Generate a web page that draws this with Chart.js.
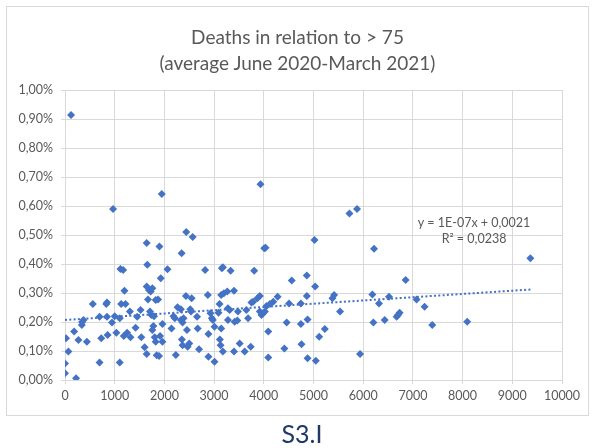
<!DOCTYPE html>
<html>
<head>
<meta charset="utf-8">
<script src="https://cdn.jsdelivr.net/npm/chart.js@4.4.1/dist/chart.umd.min.js"></script>
<style>
  html, body { margin: 0; padding: 0; background: #fff; }
  #wrap { position: relative; width: 594px; height: 448px; overflow: hidden; font-family: Lato, sans-serif; }
  #frame { position: absolute; left: 6px; top: 6px; width: 583px; height: 410px; box-sizing: border-box; border: 1px solid #d9d9d9; }
  #title { position: absolute; left: 6px; width: 583px; top: 24px; text-align: center; color: #595959; font-size: 19px; line-height: 26px; }
  #chart { position: absolute; left: 0; top: 0; }
  #label { position: absolute; left: 0; width: 604px; top: 418px; text-align: center; color: #1f3864; font-size: 25px; line-height: 30px; }
</style>
</head>
<body>
<div id="wrap">
  <div id="frame"></div>
  <canvas id="chart" width="594" height="448"></canvas>
  <div id="title">Deaths in relation to &gt; 75<br>(average June 2020-March 2021)</div>
  <div id="label">S3.I</div>
</div>
<script>
// ===== DATA =====
const xValues = [
  122, 967, 1947, 1643, 1900, 2346, 2440, 2569, 3934, 4009, 4036, 5723, 5877, 5020, 6218, 9364,
  0, 0, 20, 68, 223, 183, 270, 338, 345, 372, 440, 560, 696, 696, 730, 831, 845, 845, 858, 946,
  1000, 1034, 1102, 1102, 1115, 1170, 1130, 1196, 1217, 1183, 1250, 1305, 1318, 1420, 1453, 1521,
  1535, 1602, 1643, 1656, 1643, 1670, 1690, 1724, 1710, 1737, 1758, 1758, 1791, 1778, 1805, 1825,
  1825, 1845, 1873, 1893, 1913, 1927, 1960, 1960, 2062, 2143, 2183, 2210, 2230, 2265, 2332, 2352,
  2332, 2366, 2366, 2386, 2433, 2454, 2467, 2500, 2520, 2535, 2548, 2657, 2670, 2697, 2819, 2873,
  2886, 2886, 2927, 2954, 2974, 3008, 3008, 3089, 3110, 3116, 3143, 3130, 3143, 3157, 3177, 3177,
  3197, 3265, 3278, 3312, 3278, 3332, 3400, 3400, 3413, 3467, 3480, 3515, 3616, 3650, 3683, 3737,
  3751, 3785, 3806, 3872, 3920, 3920, 3954, 3987, 4022, 4056, 4090, 4090, 4124, 4190, 4278, 4414,
  4461, 4508, 4563,
  4746, 4746, 4759, 4866, 4866, 4880, 4880, 5033, 5047, 5114, 5228, 5381, 5415, 5535, 5937, 6185,
  6205, 6318, 6432, 6519, 6673, 6700, 6733, 6854, 7074, 7235, 7389, 8092
];
// deaths in relation to > 75, in percent
const deathShare = [
  0.914, 0.590, 0.641, 0.472, 0.460, 0.437, 0.510, 0.493, 0.675, 0.454, 0.456, 0.574, 0.590, 0.483, 0.453, 0.420,
  0.057, 0.023, 0.144, 0.098, 0.006, 0.167, 0.138, 0.190, 0.200, 0.207, 0.132, 0.262, 0.060, 0.218, 0.144, 0.262, 0.267, 0.218, 0.155, 0.198,
  0.220, 0.163, 0.213, 0.060, 0.383, 0.379, 0.262, 0.308, 0.262, 0.152, 0.163, 0.236, 0.147, 0.180, 0.218, 0.241,
  0.147, 0.113, 0.090, 0.397, 0.322, 0.278, 0.310, 0.305, 0.236, 0.224, 0.316, 0.172, 0.220, 0.186, 0.147, 0.276,
  0.132, 0.085, 0.278, 0.083, 0.152, 0.351, 0.132, 0.193, 0.382, 0.178, 0.220, 0.213, 0.086, 0.251, 0.244, 0.140,
  0.207, 0.198, 0.120, 0.213, 0.290, 0.172, 0.115, 0.126, 0.244, 0.236, 0.282, 0.218, 0.178, 0.106, 0.379, 0.293,
  0.159, 0.080, 0.230, 0.213, 0.207, 0.063, 0.184, 0.232, 0.262, 0.140, 0.178, 0.120, 0.293, 0.385, 0.389, 0.098,
  0.299, 0.305, 0.247, 0.241, 0.207, 0.377, 0.308, 0.098, 0.201, 0.205, 0.236, 0.126, 0.098, 0.241, 0.213, 0.115,
  0.267, 0.270, 0.377, 0.282, 0.290, 0.236, 0.224, 0.230, 0.236, 0.255, 0.078, 0.167, 0.262, 0.270, 0.287, 0.109,
  0.198, 0.264, 0.343,
  0.264, 0.193, 0.123, 0.360, 0.290, 0.209, 0.075, 0.322, 0.066, 0.149, 0.176, 0.282, 0.293, 0.236, 0.090, 0.295,
  0.198, 0.264, 0.207, 0.287, 0.218, 0.224, 0.232, 0.345, 0.278, 0.253, 0.190, 0.201
];
// linear trendline, ends
const trendX = [0, 9364];
const trendY = [0.207, 0.312];
const trendText = ["y = 1E-07x + 0,0021", "R\u00b2 = 0,0238"];

const xTicks = { min: 0, max: 10000, step: 1000 };
const yTicks = { min: 0, max: 1, step: 0.1 };

// ===== COLOURS =====
const BLUE = "#4472c4";
const GRID = "#d9d9d9";
const TEXT = "#595959";

const points = xValues.map((x, i) => ({ x: x, y: deathShare[i] }));
const trend = trendX.map((x, i) => ({ x: x, y: trendY[i] }));

// ===== TRENDLINE LABEL =====
const trendLabel = {
    id: "trendLabel",
    afterDatasetsDraw(chart) {
        const ctx = chart.ctx;
        const xs = chart.scales.x;
        const ys = chart.scales.y;
        const cx = xs.getPixelForValue(8230);
        ctx.save();
        ctx.fillStyle = TEXT;
        ctx.font = "12.5px Lato";
        ctx.textAlign = "center";
        ctx.textBaseline = "middle";
        ctx.fillText(trendText[0], cx, ys.getPixelForValue(0.541));
        ctx.fillText(trendText[1], cx, ys.getPixelForValue(0.486));
        ctx.restore();
    }
};

// ===== CHART =====
new Chart(document.getElementById("chart"), {
    type: "scatter",
    data: {
        datasets: [
            {
                label: "Deaths",
                data: points,
                pointStyle: "rectRot",
                pointRadius: 4,
                pointBackgroundColor: BLUE,
                pointBorderColor: BLUE,
                pointBorderWidth: 0
            },
            {
                type: "line",
                label: "Trend",
                data: trend,
                borderColor: BLUE,
                borderWidth: 2,
                borderDash: [2, 2.3],
                pointRadius: 0,
                fill: false
            }
        ]
    },
    options: {
        responsive: false,
        animation: false,
        layout: { padding: { left: 0, top: 90, right: 32, bottom: 38 } },
        plugins: {
            legend: { display: false },
            tooltip: { enabled: false }
        },
        scales: {
            x: {
                type: "linear",
                min: xTicks.min,
                max: xTicks.max,
                afterFit: s => { s.height = 30; },
                border: { color: GRID },
                grid: { color: GRID, tickLength: 4 },
                ticks: {
                    stepSize: xTicks.step,
                    color: TEXT,
                    padding: 4,
                    maxRotation: 0,
                    font: { family: "Lato", size: 12.5 },
                    callback: v => String(v)
                }
            },
            y: {
                min: yTicks.min,
                max: yTicks.max,
                afterFit: s => { s.width = 65; },
                border: { color: GRID },
                grid: { color: GRID, tickLength: 4 },
                ticks: {
                    stepSize: yTicks.step,
                    color: TEXT,
                    padding: 8,
                    font: { family: "Lato", size: 12.5 },
                    callback: v => v.toFixed(2).replace(".", ",") + "%"
                }
            }
        }
    },
    plugins: [trendLabel]
});
</script>
</body>
</html>
